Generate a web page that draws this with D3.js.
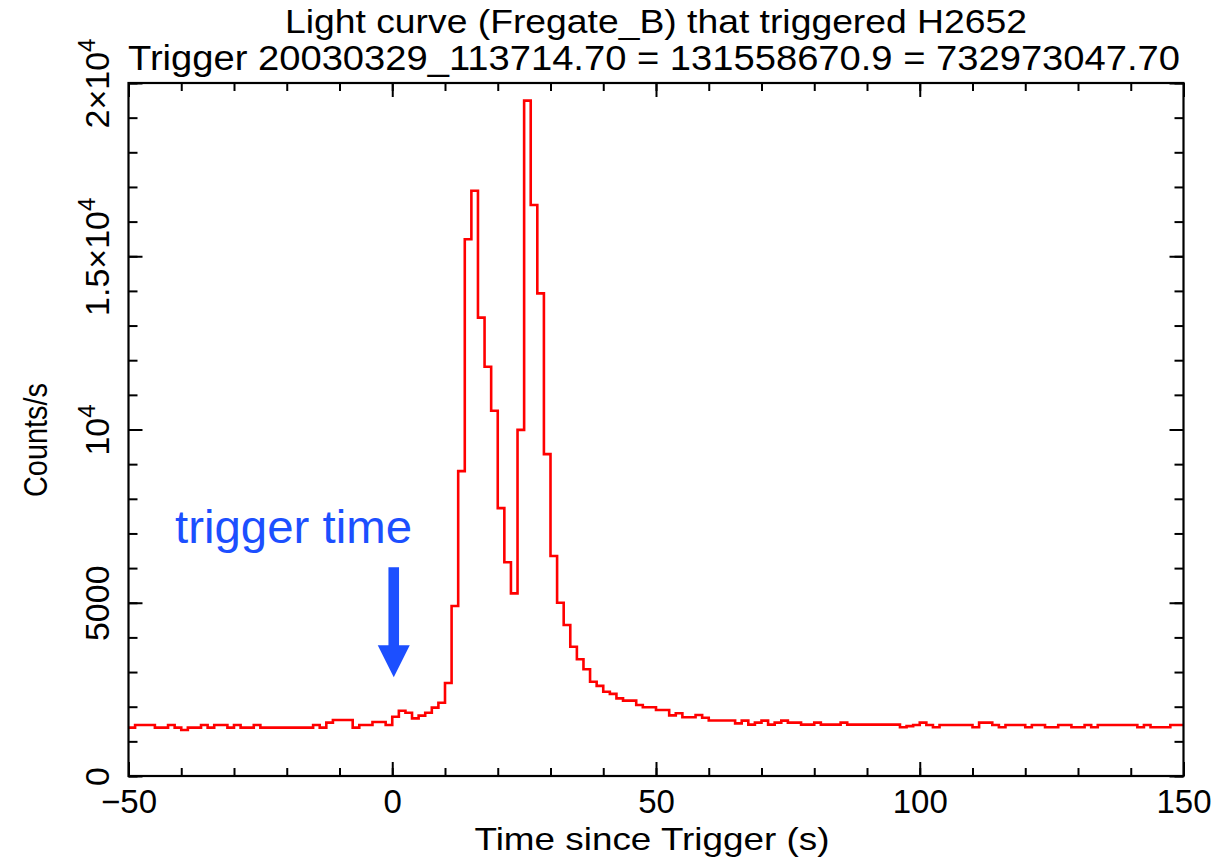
<!DOCTYPE html>
<html>
<head>
<meta charset="utf-8">
<script src="https://cdn.jsdelivr.net/npm/d3@7"></script>
<style>
  body { margin: 0; background: #fff; }
  text { font-family: "Liberation Sans", Arial, sans-serif; fill: #000; }
</style>
</head>
<body>
<div id="chart"></div>
<script>
// light curve, 1.25 s bins starting at -50 s
const binStart = -50;
const binWidth = 1.25;
const counts = [
  1395, 1472, 1472, 1472, 1395, 1395, 1472, 1395, 1328, 1395,   // -50 .. -38.75
  1395, 1472, 1395, 1472, 1472, 1395, 1472, 1395, 1395, 1472,   // -37.5 .. -26.25
  1395, 1395, 1395, 1395, 1395, 1395, 1395, 1395, 1472, 1395,   // -25 .. -13.75
  1539, 1616, 1616, 1616, 1395, 1472, 1472, 1558, 1558, 1472,   // -12.5 .. -1.25
  1712, 1885, 1827, 1664, 1741, 1827, 1972, 2115, 2684, 4906,   // 0 .. 11.25
  8800, 15490, 16890, 13230, 11810, 10540, 7730, 6170, 5270, 9990, // 12.5 .. 23.75
  19490, 16480, 13930, 9290, 6350, 5000, 4360, 3730, 3370, 3080,   // 25 .. 36.25
  2720, 2600, 2430, 2370, 2240, 2174, 2174, 2049, 1982, 1982,   // 37.5 .. 48.75
  1905, 1905, 1751, 1809, 1694, 1694, 1760, 1680, 1600, 1600,   // 50 .. 61.25
  1600, 1600, 1520, 1597, 1482, 1540, 1597, 1482, 1540, 1597,   // 62.5 .. 73.75
  1540, 1540, 1482, 1482, 1540, 1482, 1482, 1482, 1540, 1482,   // 75 .. 86.25
  1482, 1482, 1482, 1482, 1482, 1482, 1482, 1405, 1440, 1472,   // 87.5 .. 98.75
  1539, 1472, 1405, 1472, 1472, 1472, 1472, 1472, 1405, 1539,   // 100 .. 111.25
  1539, 1472, 1405, 1472, 1472, 1472, 1405, 1472, 1472, 1405,   // 112.5 .. 123.75
  1405, 1472, 1472, 1405, 1405, 1472, 1405, 1472, 1472, 1472,   // 125 .. 136.25
  1472, 1472, 1472, 1405, 1472, 1405, 1405, 1405, 1472, 1472    // 137.5 .. 148.75
];

const xDomain = [-50, 150];
const yDomain = [0, 20000];
const xMajorTicks = [-50, 0, 50, 100, 150];
const xMinorTicks = d3.range(-50, 151, 10);
const yMajorTicks = [0, 5000, 10000, 15000, 20000];
const yMinorTicks = d3.range(0, 20001, 1000);
// [base, superscript]
const yTickLabels = [["0", ""], ["5000", ""], ["10", "4"], ["1.5\u00d710", "4"], ["2\u00d710", "4"]];

const titleLine1 = "Light curve (Fregate_B) that triggered H2652";
const titleLine2 = "Trigger 20030329_113714.70 = 131558670.9 = 732973047.70";
const xLabel = "Time since Trigger (s)";
const yLabel = "Counts/s";
const triggerTime = 0;
const arrowTipValue = 2850;

const W = 1217, H = 857;
const plotLeft = 128.5, plotRight = 1183.5, plotTop = 83, plotBottom = 776;

const svg = d3.select("#chart")
    .append("svg")
    .attr("width", W)
    .attr("height", H);

const x = d3.scaleLinear().domain(xDomain).range([plotLeft, plotRight]);
const y = d3.scaleLinear().domain(yDomain).range([plotBottom, plotTop]);

// light curve as a histogram
const points = counts.map((c, i) => [binStart + i * binWidth, c]);
points.push([binStart + counts.length * binWidth, counts[counts.length - 1]]);

const line = d3.line()
    .x(d => x(d[0]))
    .y(d => y(d[1]))
    .curve(d3.curveStepAfter);

svg.append("path")
    .datum(points)
    .attr("d", line)
    .attr("fill", "none")
    .attr("stroke", "#ff0000")
    .attr("stroke-width", 2.6);

// axes: ticks point inward on all four sides
function styleAxis(g) {
    g.select(".domain").remove();
    g.selectAll(".tick line").attr("stroke", "#000").attr("stroke-width", 2);
}

svg.append("g")
    .attr("transform", `translate(0,${plotBottom})`)
    .call(d3.axisBottom(x).tickValues(xMinorTicks).tickSize(-8).tickFormat(""))
    .call(styleAxis);
svg.append("g")
    .attr("transform", `translate(0,${plotTop})`)
    .call(d3.axisTop(x).tickValues(xMinorTicks).tickSize(-8).tickFormat(""))
    .call(styleAxis);
svg.append("g")
    .attr("transform", `translate(0,${plotTop})`)
    .call(d3.axisTop(x).tickValues(xMajorTicks).tickSize(-14).tickFormat(""))
    .call(styleAxis);

const xAxis = svg.append("g")
    .attr("transform", `translate(0,${plotBottom})`)
    .call(d3.axisBottom(x).tickValues(xMajorTicks).tickSize(-14).tickPadding(14)
        .tickFormat(d => d < 0 ? "\u2212" + Math.abs(d) : d))
    .call(styleAxis);
xAxis.selectAll(".tick text")
    .attr("font-family", "Liberation Sans, Arial, sans-serif")
    .attr("font-size", 33)
    .attr("dy", "0.71em")
    .attr("fill", "#000");

svg.append("g")
    .attr("transform", `translate(${plotLeft},0)`)
    .call(d3.axisLeft(y).tickValues(yMinorTicks).tickSize(-9).tickFormat(""))
    .call(styleAxis);
svg.append("g")
    .attr("transform", `translate(${plotRight},0)`)
    .call(d3.axisRight(y).tickValues(yMinorTicks).tickSize(-9).tickFormat(""))
    .call(styleAxis);
svg.append("g")
    .attr("transform", `translate(${plotRight},0)`)
    .call(d3.axisRight(y).tickValues(yMajorTicks).tickSize(-14).tickFormat(""))
    .call(styleAxis);

const yAxis = svg.append("g")
    .attr("transform", `translate(${plotLeft},0)`)
    .call(d3.axisLeft(y).tickValues(yMajorTicks).tickSize(-14).tickFormat(""))
    .call(styleAxis);

yAxis.selectAll(".tick").each(function(d, i) {
    const lab = yTickLabels[i];
    const t = d3.select(this).append("text")
        .attr("transform", "translate(-20,0) rotate(-90)")
        .attr("text-anchor", "middle")
        .attr("font-size", 34)
        .attr("fill", "#000");
    t.append("tspan").text(lab[0]);
    if (lab[1]) {
        t.append("tspan").attr("font-size", 24).attr("dy", -14).text(lab[1]);
    }
});

// frame
svg.append("rect")
    .attr("x", plotLeft)
    .attr("y", plotTop)
    .attr("width", plotRight - plotLeft)
    .attr("height", plotBottom - plotTop)
    .attr("fill", "none")
    .attr("stroke", "#000")
    .attr("stroke-width", 2.2);

// titles and labels
svg.append("text")
    .attr("x", (plotLeft + plotRight) / 2)
    .attr("y", 33)
    .attr("text-anchor", "middle")
    .attr("font-size", 34)
    .attr("textLength", 742)
    .attr("lengthAdjust", "spacingAndGlyphs")
    .text(titleLine1);

svg.append("text")
    .attr("x", 654)
    .attr("y", 70)
    .attr("text-anchor", "middle")
    .attr("font-size", 35)
    .attr("textLength", 1052)
    .attr("lengthAdjust", "spacingAndGlyphs")
    .text(titleLine2);

svg.append("text")
    .attr("x", 652)
    .attr("y", 850)
    .attr("text-anchor", "middle")
    .attr("font-size", 32)
    .attr("textLength", 355)
    .attr("lengthAdjust", "spacingAndGlyphs")
    .text(xLabel);

svg.append("text")
    .attr("transform", "translate(47,440) rotate(-90)")
    .attr("text-anchor", "middle")
    .attr("font-size", 33)
    .attr("textLength", 114)
    .attr("lengthAdjust", "spacingAndGlyphs")
    .text(yLabel);

// trigger time annotation
const ax = x(triggerTime) + 1.5;
const tipY = y(arrowTipValue);
svg.append("text")
    .attr("x", 175)
    .attr("y", 543)
    .attr("font-size", 47)
    .attr("textLength", 237)
    .attr("lengthAdjust", "spacingAndGlyphs")
    .style("fill", "#1c4fff")
    .text("trigger time");

svg.append("rect")
    .attr("x", ax - 5.3)
    .attr("y", tipY - 110)
    .attr("width", 10.6)
    .attr("height", 82)
    .attr("fill", "#1c4fff");

svg.append("path")
    .attr("d", `M ${ax - 16} ${tipY - 32} L ${ax + 16} ${tipY - 32} L ${ax} ${tipY} Z`)
    .attr("fill", "#1c4fff");
</script>
</body>
</html>
